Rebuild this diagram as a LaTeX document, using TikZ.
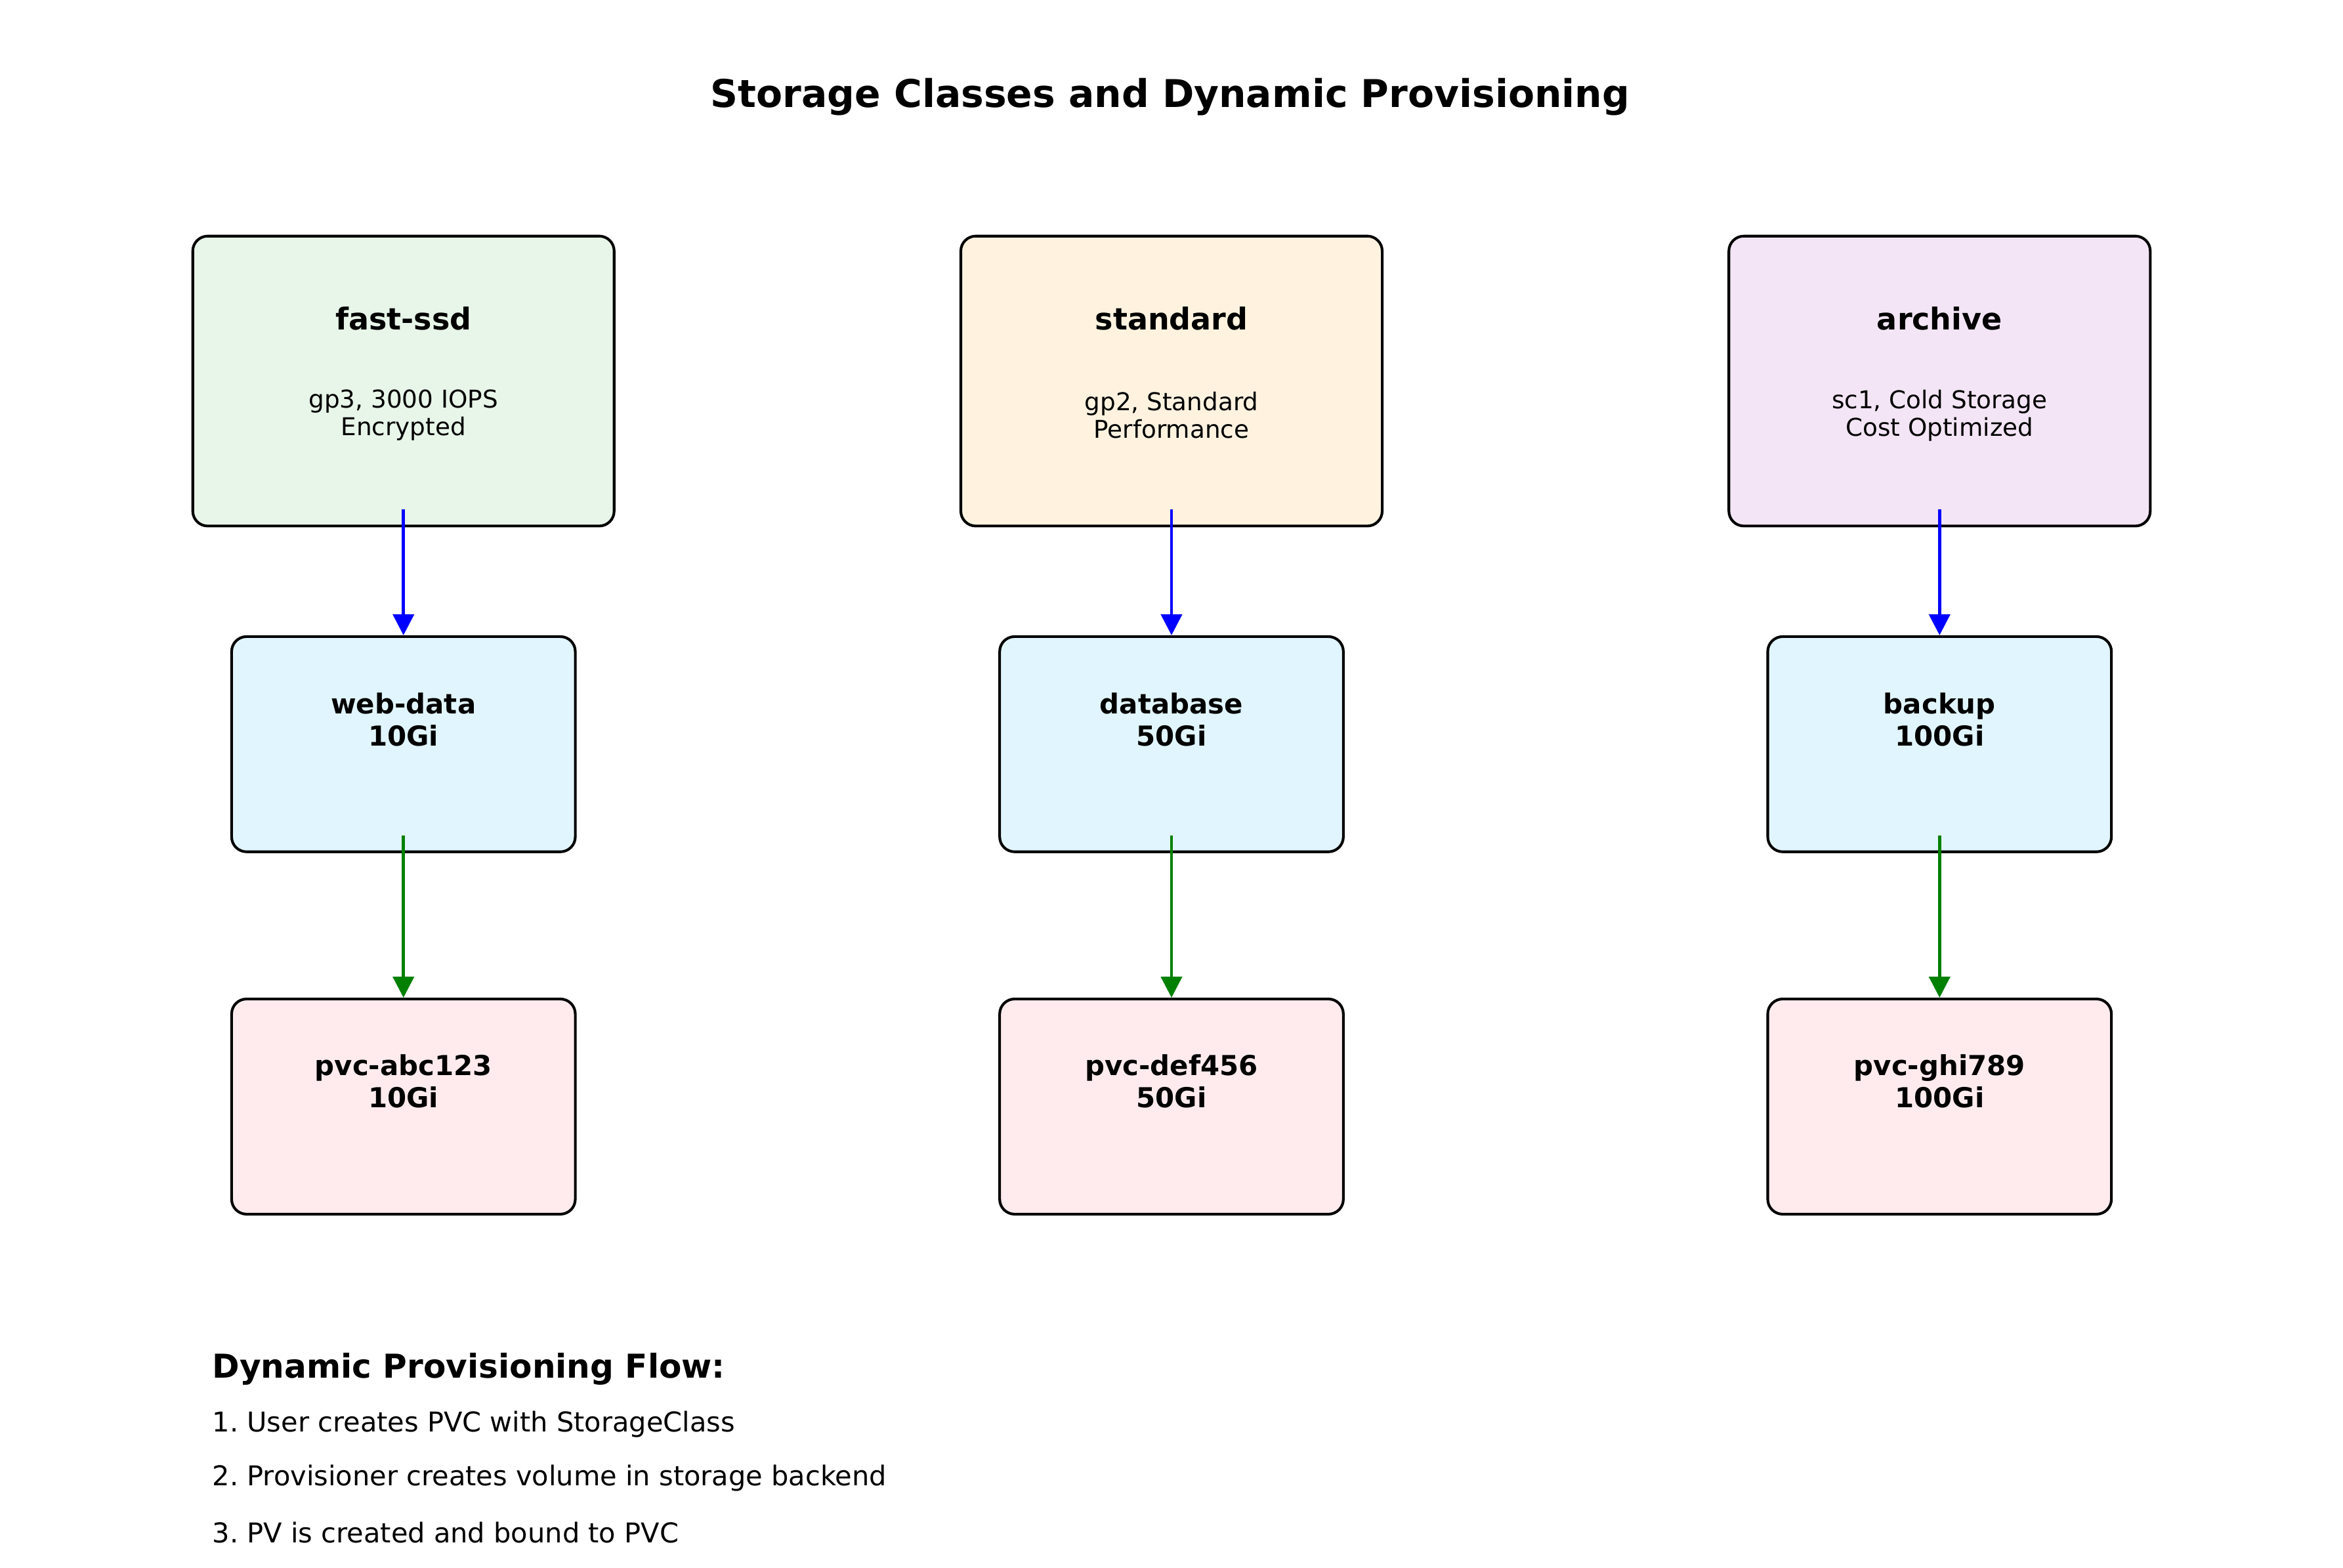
\documentclass[tikz,border=0pt]{standalone}
\usepackage{fontspec}
\setmainfont{DejaVu Sans}
\usetikzlibrary{arrows.meta,positioning}
\frenchspacing

\definecolor{ssdgreen}{HTML}{E8F5E9}
\definecolor{stdorange}{HTML}{FFF3E0}
\definecolor{archpurple}{HTML}{F3E5F5}
\definecolor{claimblue}{HTML}{E1F5FE}
\definecolor{volpink}{HTML}{FFEBEE}
\definecolor{flowgreen}{HTML}{008000}

\newcommand{\mplsize}[2]{\fontsize{#1}{#2}\selectfont}

\tikzset{
  classbox/.style={draw=black, line width=1.8pt, rounded corners=10pt,
    minimum width=282pt, minimum height=194pt, inner sep=0pt},
  claimbox/.style={draw=black, line width=1.8pt, rounded corners=10pt, fill=claimblue,
    minimum width=230pt, minimum height=144pt, inner sep=0pt},
  volbox/.style={claimbox, fill=volpink},
  classname/.style={font=\mplsize{20.2}{24}\bfseries, inner sep=0pt},
  classinfo/.style={font=\mplsize{16.4}{18.5}, align=center, inner sep=0pt},
  boxtext/.style={font=\mplsize{18.4}{21.5}\bfseries, align=center, inner sep=0pt},
  bindarrow/.style={line width=2pt, -{Triangle[width=14pt,length=14pt]}},
  listline/.style={anchor=west, font=\mplsize{18.25}{21}, inner sep=0pt}
}

\begin{document}
\begin{tikzpicture}[x=1pt, y=-1pt]

\useasboundingbox [fill=white] (0,0) rectangle (1568,1048.9);

\node [font=\mplsize{25.6}{30}\bfseries] (title) at (783,65) {Storage Classes and Dynamic Provisioning};

% storage classes
\node [classbox, fill=ssdgreen] (fastssd) at (270,255) {};
\node [classbox, fill=stdorange] (standard) at (784,255) {};
\node [classbox, fill=archpurple] (archive) at (1298,255) {};

\node [classname] (fastssdname) at ([yshift=42pt]fastssd.center) {fast-ssd};
\node [classname] (standardname) at ([yshift=42pt]standard.center) {standard};
\node [classname] (archivename) at ([yshift=42pt]archive.center) {archive};

\node [classinfo] (fastssdinfo) at ([yshift=-23pt]fastssd.center) {gp3, 3000 IOPS\\Encrypted};
\node [classinfo] (standardinfo) at ([yshift=-23pt]standard.center) {gp2, Standard\\Performance};
\node [classinfo] (archiveinfo) at ([yshift=-23pt]archive.center) {sc1, Cold Storage\\Cost Optimized};

% claims
\node [claimbox] (webdata) at (270,498) {};
\node [claimbox] (database) at (784,498) {};
\node [claimbox] (backup) at (1298,498) {};

\node [boxtext] (webdatatext) at ([yshift=16.5pt]webdata.center) {web-data\\10Gi};
\node [boxtext] (databasetext) at ([yshift=16.5pt]database.center) {database\\50Gi};
\node [boxtext] (backuptext) at ([yshift=16.5pt]backup.center) {backup\\100Gi};

% volumes
\node [volbox] (pvabc) at (270,740.5) {};
\node [volbox] (pvdef) at (784,740.5) {};
\node [volbox] (pvghi) at (1298,740.5) {};

\node [boxtext] (pvabctext) at ([yshift=17pt]pvabc.center) {pvc-abc123\\10Gi};
\node [boxtext] (pvdeftext) at ([yshift=17pt]pvdef.center) {pvc-def456\\50Gi};
\node [boxtext] (pvghitext) at ([yshift=17pt]pvghi.center) {pvc-ghi789\\100Gi};

% arrows
\draw [bindarrow, blue] ([yshift=12pt]fastssd.south) -- (webdata.north);
\draw [bindarrow, blue] ([yshift=12pt]standard.south) -- (database.north);
\draw [bindarrow, blue] ([yshift=12pt]archive.south) -- (backup.north);

\draw [bindarrow, flowgreen] ([yshift=12pt]webdata.south) -- (pvabc.north);
\draw [bindarrow, flowgreen] ([yshift=12pt]database.south) -- (pvdef.north);
\draw [bindarrow, flowgreen] ([yshift=12pt]backup.south) -- (pvghi.north);

% flow notes
\node [listline, font=\mplsize{22.0}{26}\bfseries] (flowhead) at (142,916) {Dynamic Provisioning Flow:};
\node [listline] (stepone) at (142,953) {1. User creates PVC with StorageClass};
\node [listline] (steptwo) at (142,989) {2. Provisioner creates volume in storage backend};
\node [listline] (stepthree) at (142,1025.5) {3. PV is created and bound to PVC};

\end{tikzpicture}
\end{document}
